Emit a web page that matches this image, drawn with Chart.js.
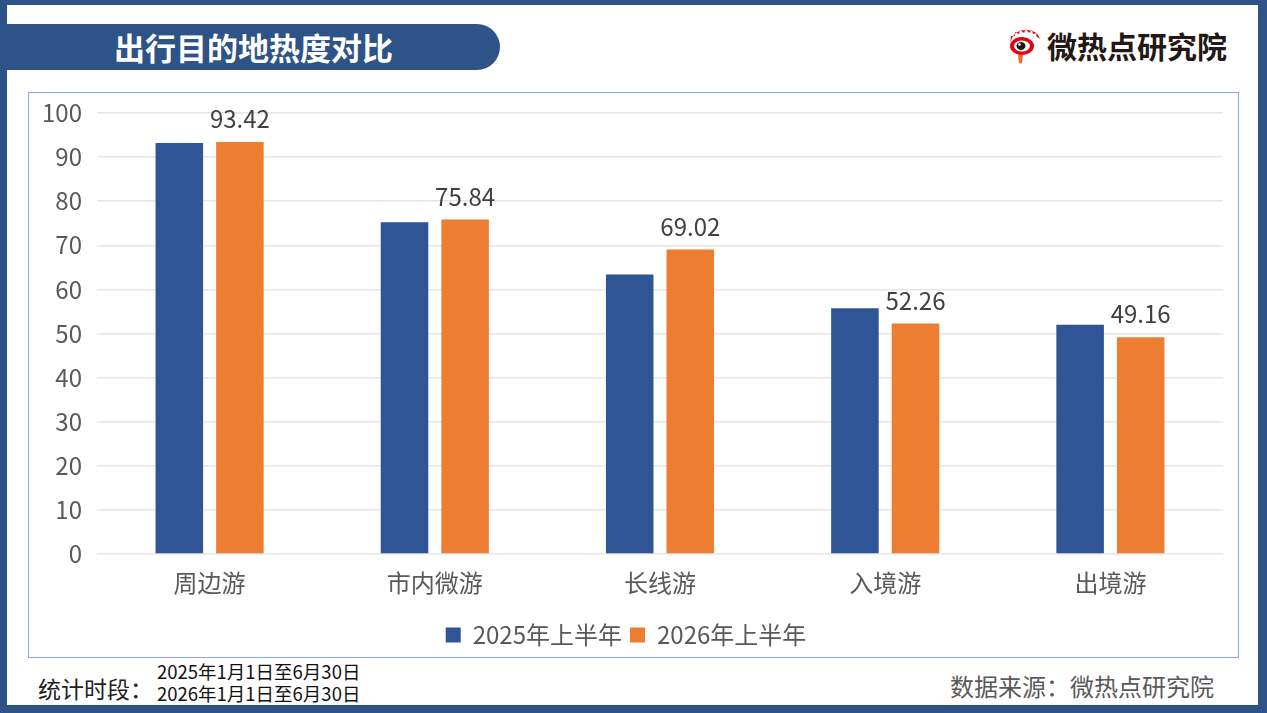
<!DOCTYPE html>
<html lang="zh-CN">
<head>
<meta charset="UTF-8">
<title>出行目的地热度对比</title>
<style>
  * { box-sizing: border-box; margin: 0; padding: 0; }
  html, body { width: 1267px; height: 713px; overflow: hidden; background: #fff; }
  body { font-family: "Noto Sans CJK SC", "Noto Sans", sans-serif; position: relative; }
  .frame { position: absolute; left: 0; top: 0; width: 1267px; height: 713px; border-style: solid; border-color: #2e5387; border-width: 5px 9px 8px 7px; }
  .banner { position: absolute; left: 7px; top: 24px; width: 493px; height: 46px; background: #2e5387; border-radius: 0 23px 23px 0; color: #fff; font-weight: 700; font-size: 31px; line-height: 46px; text-align: center; }
  .logo { position: absolute; left: 1004px; top: 25px; height: 40px; display: flex; align-items: center; }
  .logo span { font-size: 30px; font-weight: 700; color: #231815; margin-left: 3px; }
  .box { position: absolute; left: 28px; top: 92px; width: 1211px; height: 566px; border: 1px solid #8eaadb; }
  .box canvas { display: block; }
  .period { position: absolute; left: 38px; top: 671px; font-size: 23px; color: #222; }
  .dates { position: absolute; left: 157px; top: 660px; font-size: 18.5px; line-height: 22px; color: #111; }
  .source { position: absolute; right: 53px; top: 668px; font-size: 24px; color: #595959; }
</style>
</head>
<body>
<div class="frame"></div>
<div class="banner">出行目的地热度对比</div>
<div class="logo">
  <svg width="40" height="40" viewBox="0 0 40 40">
    <path d="M6 20 Q8 4 24 5 Q34 6 36 14 L32 11 L33 8 L29 9 L28 5 L25 8 L22 4 L20 8 L16 5 L15 9 L11 7 L11 11 L7 11 Z" fill="#e60012"/>
    <ellipse cx="18" cy="21" rx="12" ry="9" fill="#e60012"/>
    <ellipse cx="18" cy="21" rx="8" ry="5.5" fill="#fff"/>
    <ellipse cx="17" cy="21" rx="4.5" ry="4" fill="#231815"/>
    <circle cx="15.5" cy="19.5" r="1.3" fill="#fff"/>
    <path d="M14 30 L19 30 L18 38 Q16 39 15 38 Z" fill="#ec6d2c"/>
  </svg>
  <span>微热点研究院</span>
</div>
<div class="box"><canvas id="c" width="1209" height="564"></canvas></div>
<div class="period">统计时段：</div>
<div class="dates">2025年1月1日至6月30日<br>2026年1月1日至6月30日</div>
<div class="source">数据来源：微热点研究院</div>

<script src="https://cdn.jsdelivr.net/npm/chart.js@4.4.1/dist/chart.umd.min.js"></script>
<script>
const categories = ['周边游', '市内微游', '长线游', '入境游', '出境游'];
const seriesNames = ['2025年上半年', '2026年上半年'];
const h1_2025 = [93.2, 75.2, 63.4, 55.7, 52.0];
const h1_2026 = [93.42, 75.84, 69.02, 52.26, 49.16];
const yTicks = [0, 10, 20, 30, 40, 50, 60, 70, 80, 90, 100];

const FONT = '"Noto Sans CJK SC", "Noto Sans", sans-serif';

// value labels above the 2026 bars only
const valueLabels = {
  id: 'valueLabels',
  afterDatasetsDraw(chart) {
    const ctx = chart.ctx;
    const meta = chart.getDatasetMeta(1);
    ctx.save();
    ctx.font = '24px ' + FONT;
    ctx.fillStyle = '#404040';
    ctx.textAlign = 'center';
    ctx.textBaseline = 'middle';
    meta.data.forEach((bar, i) => {
      ctx.fillText(h1_2026[i].toFixed(2), bar.x, bar.y - 23);
    });
    ctx.restore();
  }
};

new Chart(document.getElementById('c'), {
  type: 'bar',
  data: {
    labels: categories,
    datasets: [
      { label: seriesNames[0], data: h1_2025, backgroundColor: '#2f5597', borderWidth: 0 },
      { label: seriesNames[1], data: h1_2026, backgroundColor: '#ed7d31', borderWidth: 0 }
    ]
  },
  options: {
    responsive: false,
    animation: false,
    devicePixelRatio: 1,
    categoryPercentage: 0.538,
    barPercentage: 0.785,
    layout: { padding: { top: 20, right: 15, left: 0, bottom: 0 } },
    plugins: {
      legend: {
        position: 'bottom',
        labels: { color: '#595959', font: { family: FONT, size: 24 }, boxWidth: 15, boxHeight: 15, padding: 8 }
      },
      tooltip: { enabled: false }
    },
    scales: {
      x: {
        grid: { display: false, drawTicks: false },
        border: { display: false },
        ticks: { color: '#595959', font: { family: FONT, size: 24 }, padding: 14 },
        afterFit: s => { s.height = 61; }
      },
      y: {
        min: 0, max: 100,
        afterBuildTicks: s => { s.ticks = yTicks.map(v => ({ value: v })); },
        grid: { color: '#e6e6e6', lineWidth: 1.5, drawTicks: false },
        border: { display: false },
        ticks: { color: '#595959', font: { family: FONT, size: 24 }, padding: 15 },
        afterFit: s => { s.width = 68; s.paddingTop = 0; s.paddingBottom = 0; }
      }
    }
  },
  plugins: [valueLabels]
});
</script>
</body>
</html>
